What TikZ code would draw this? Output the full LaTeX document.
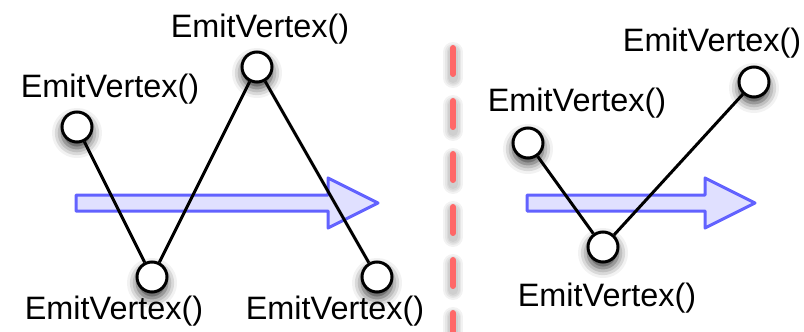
\documentclass[tikz,border=0pt]{standalone}
\usepackage{fontspec}
\setmainfont{Liberation Sans}
\usepackage{xcolor}
\usepackage{tikz}
\usetikzlibrary{positioning, shadows.blur}
\definecolor{flowblue}{RGB}{98,98,255}
\definecolor{flowfill}{RGB}{224,224,255}
\definecolor{splitred}{RGB}{255,104,104}
\tikzset{
  vertexnode/.style={draw, circle, line width=1.5pt, fill=white, minimum size=15pt, inner sep=0pt,
    blur shadow={shadow xshift=0pt, shadow yshift=-3pt, shadow blur radius=5pt, shadow opacity=80}},
  emitlabel/.style={inner sep=0pt, font=\fontsize{16.2}{19}\selectfont},
  edgeline/.style={line width=1.5pt},
  flowarrow/.style={draw=flowblue, fill=flowfill, line width=1.5pt, line join=round},
  splitline/.style={draw=splitred, line width=3pt, line cap=round, dash pattern=on 13pt off 13.5pt},
  splitglow/.style={draw=black, line cap=round, dash pattern=on 13pt off 13.5pt, opacity=0.05}
}
\begin{document}
\begin{tikzpicture}[x=0.5pt, y=-0.5pt]
\useasboundingbox (0,0) rectangle (804,332);

% Flow arrows
\draw[flowarrow] (76,195) -- (328,195) -- (328,178) -- (378,203) -- (328,228) -- (328,211) -- (76,211) -- cycle;
\draw[flowarrow] (527,195) -- (705,195) -- (705,178) -- (755,203) -- (705,228) -- (705,211) -- (527,211) -- cycle;

% Split
\foreach \w in {10pt, 8pt, 6.5pt, 5pt}
  \draw[splitglow, line width=\w] (453,52) -- (453,349);
\draw[splitline] (453,48) -- (453,345);

% Nodes
\node[vertexnode] (V1) at (77,127) {};
\node[vertexnode] (V2) at (152,277) {};
\node[vertexnode] (V3) at (257,67) {};
\node[vertexnode] (V4) at (377,277) {};
\node[vertexnode] (W1) at (528,143) {};
\node[vertexnode] (W2) at (603,247) {};
\node[vertexnode] (W3) at (754,82) {};

\node[emitlabel] (L1) at (110,89) {EmitVertex()};
\node[emitlabel] (L2) at (114,311) {EmitVertex()};
\node[emitlabel] (L3) at (260,29) {EmitVertex()};
\node[emitlabel] (L4) at (335,311) {EmitVertex()};
\node[emitlabel] (M1) at (577,103) {EmitVertex()};
\node[emitlabel] (M2) at (607,298) {EmitVertex()};
\node[emitlabel] (M3) at (712,43) {EmitVertex()};

% Connections
\draw[edgeline] (V1) -- (V2);
\draw[edgeline] (V2) -- (V3);
\draw[edgeline] (V3) -- (V4);
\draw[edgeline] (W1) -- (W2);
\draw[edgeline] (W2) -- (W3);

\end{tikzpicture}
\end{document}
